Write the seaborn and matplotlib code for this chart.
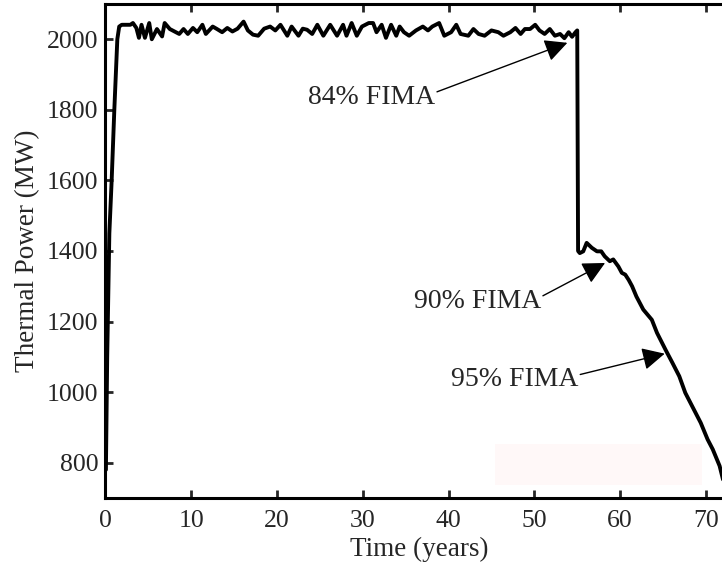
import matplotlib
matplotlib.use("Agg")
import matplotlib.pyplot as plt
import seaborn as sns
import pandas as pd

# ---- data ----
time_yr = [0.05, 0.2, 0.45, 0.72, 1.03, 1.38, 1.6, 1.9, 2.4, 2.9, 3.2, 3.6, 3.9, 4.2, 4.6,
           5.1, 5.4, 6.0, 6.6, 6.9, 7.5, 8.2, 8.6, 9.1, 9.6, 10.2, 10.7, 11.3, 11.7, 12.5,
           13.0, 13.6, 14.2, 14.8, 15.4, 16.1, 16.6, 17.2, 17.8, 18.5, 19.2, 19.8, 20.4,
           21.2, 21.7, 22.5, 23.0, 23.5, 24.1, 24.7, 25.4, 26.2, 27.0, 27.7, 28.1, 28.7,
           29.3, 29.9, 30.7, 31.2, 31.6, 32.2, 32.7, 33.3, 33.9, 34.3, 34.8, 35.4, 36.2,
           37.0, 37.6, 38.1, 38.9, 39.5, 40.3, 40.9, 41.4, 42.3, 42.9, 43.5, 44.2, 45.0,
           45.8, 46.4, 47.2, 47.8, 48.4, 48.9, 49.5, 50.1, 50.6, 51.2, 51.8, 52.4, 53.0,
           53.5, 54.0, 54.4, 54.8, 55.0, 55.1, 55.3, 55.7, 56.1, 56.7, 57.3, 57.8, 58.2,
           58.8, 59.2, 59.8, 60.2, 60.6, 61.0, 61.4, 61.9, 62.7, 63.7, 64.3, 65.3, 66.1,
           66.9, 67.6, 68.4, 69.4, 70.2, 70.8, 71.6, 72.0, 72.5]
power_mw = [780, 1100, 1450, 1600, 1800, 2000, 2036, 2041, 2041, 2041, 2046, 2032, 2004, 2041, 2004,
            2046, 2000, 2029, 2008, 2046, 2029, 2020, 2015, 2029, 2015, 2032, 2020, 2041, 2015, 2036,
            2029, 2020, 2032, 2022, 2030, 2050, 2025, 2013, 2010, 2030, 2036, 2025, 2041,
            2010, 2036, 2010, 2030, 2027, 2015, 2041, 2010, 2041, 2010, 2041, 2010, 2046,
            2010, 2036, 2046, 2046, 2020, 2041, 2004, 2041, 2010, 2036, 2020, 2010, 2025,
            2036, 2025, 2036, 2046, 2010, 2020, 2041, 2015, 2010, 2029, 2015, 2010, 2025,
            2020, 2010, 2020, 2032, 2015, 2029, 2029, 2041, 2025, 2015, 2029, 2010, 2015,
            2003, 2020, 2007, 2020, 2025, 1400, 1394, 1399, 1423, 1409, 1399, 1399, 1385,
            1371, 1376, 1356, 1338, 1333, 1318, 1300, 1271, 1234, 1205, 1168, 1120, 1083,
            1045, 998, 960, 913, 866, 838, 791, 752, 725]

x_ticks = [0, 10, 20, 30, 40, 50, 60, 70]
y_ticks = [800, 1000, 1200, 1400, 1600, 1800, 2000]

labels = ["84% FIMA", "90% FIMA", "95% FIMA"]
label_tail = [(38.65, 1851), (51.0, 1273), (55.35, 1050)]
label_tip = [(53.85, 1990), (58.25, 1366), (65.2, 1109)]

df = pd.DataFrame({"Time": time_yr, "Power": power_mw})

sns.set_style("ticks")
plt.rcParams["font.family"] = ["Liberation Serif", "DejaVu Serif"]

fig = plt.figure(figsize=(7.22, 5.67), dpi=100)
ax = fig.add_axes([0.1461, 0.1217, 0.8684, 0.8713])

# faint background patch seen in the reference
ax.fill_between([45.4, 69.6], 736, 852, color="#fff8f8", lw=0, zorder=0)

sns.lineplot(data=df, x="Time", y="Power", ax=ax, color="black", lw=2.8,
             estimator=None, sort=False, zorder=3)

ax.set_xlim(0, 73.1)
ax.set_ylim(700, 2100)
ax.set_xticks(x_ticks)
ax.set_yticks(y_ticks)
ax.tick_params(axis="both", which="both", direction="in", length=6, width=2,
               labelsize=18.5, top=True, right=True, pad=9)
ax.tick_params(axis="y", pad=5)
for side in ["left", "bottom", "top", "right"]:
    ax.spines[side].set_visible(True)
    ax.spines[side].set_linewidth(2.2)
    ax.spines[side].set_color("black")

ax.set_xlabel("Time (years)", fontsize=19.5, labelpad=3)
ax.set_ylabel("Thermal Power (MW)", fontsize=19.5, labelpad=5)

for lab, tail, tip in zip(labels, label_tail, label_tip):
    ax.annotate("", xy=tip, xytext=tail,
                arrowprops=dict(arrowstyle="-|>,head_length=0.6,head_width=0.3",
                                mutation_scale=23, lw=1, color="black",
                                shrinkA=0, shrinkB=0), zorder=4)
    ax.text(tail[0] - 0.2, tail[1] - 15, lab, fontsize=20, ha="right", va="center")

fig.savefig("out.png", dpi=100)
